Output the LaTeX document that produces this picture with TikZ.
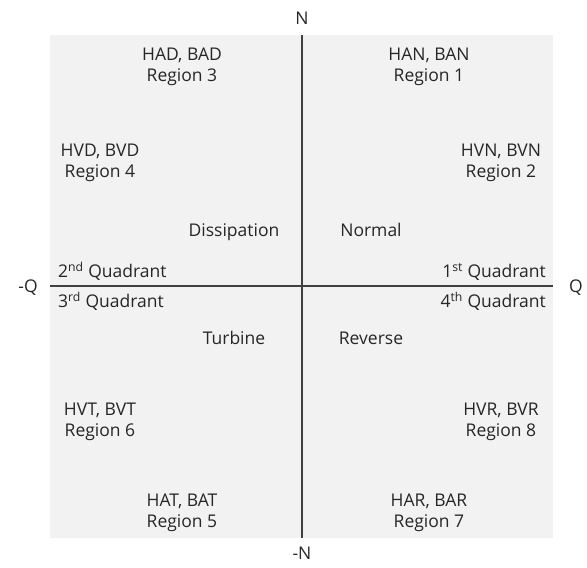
\documentclass[tikz,border=0pt]{standalone}
\usepackage{fontspec}
\setmainfont{Open Sans}
\definecolor{bggray}{HTML}{F2F2F2}
\definecolor{axisgray}{HTML}{404040}
\definecolor{txt}{HTML}{262626}
\tikzset{
  lbl/.style={text=txt, font=\fontsize{17.5}{21}\selectfont, inner sep=0pt, align=center, text height=12.5pt, text depth=3.5pt},
  axislbl/.style={text=txt, font=\fontsize{17.5}{21}\selectfont, inner sep=0pt, text height=12.5pt, text depth=3.5pt},
  axisline/.style={draw=axisgray, line width=1.3pt}
}
\begin{document}
\begin{tikzpicture}[x=1pt,y=-1pt]
\useasboundingbox (0,0) rectangle (587,568);
\fill[bggray] (50,35) rectangle (553,538);
\coordinate (top) at (302,35);
\coordinate (bot) at (302,538);
\coordinate (lft) at (50,286);
\coordinate (rgt) at (553,286);
\draw[axisline] (top) -- (bot);
\draw[axisline] (lft) -- (rgt);
\node[axislbl] (N) at (302,20) {N};
\node[axislbl] (mN) at (302,555) {-N};
\node[axislbl] (mQ) at (28,288) {-Q};
\node[axislbl] (Q) at (576,288) {Q};
\node[lbl] (r3) at (182,77) {HAD, BAD\\Region 3};
\node[lbl] (r1) at (429,77) {HAN, BAN\\Region 1};
\node[lbl] (r4) at (100,172.5) {HVD, BVD\\Region 4};
\node[lbl] (r2) at (501,172.5) {HVN, BVN\\Region 2};
\node[lbl] (diss) at (234,232) {Dissipation};
\node[lbl] (norm) at (371,232) {Normal};
\node[lbl, anchor=west] (q2) at (58,273) {2\textsuperscript{nd} Quadrant};
\node[lbl, anchor=east] (q1) at (546,273) {1\textsuperscript{st} Quadrant};
\node[lbl, anchor=west] (q3) at (58,303) {3\textsuperscript{rd} Quadrant};
\node[lbl, anchor=east] (q4) at (546,303) {4\textsuperscript{th} Quadrant};
\node[lbl] (turb) at (234,340) {Turbine};
\node[lbl] (rev) at (371,340) {Reverse};
\node[lbl] (r6) at (100,432) {HVT, BVT\\Region 6};
\node[lbl] (r8) at (501,432) {HVR, BVR\\Region 8};
\node[lbl] (r5) at (182,522.5) {HAT, BAT\\Region 5};
\node[lbl] (r7) at (429,522.5) {HAR, BAR\\Region 7};
\end{tikzpicture}
\end{document}
